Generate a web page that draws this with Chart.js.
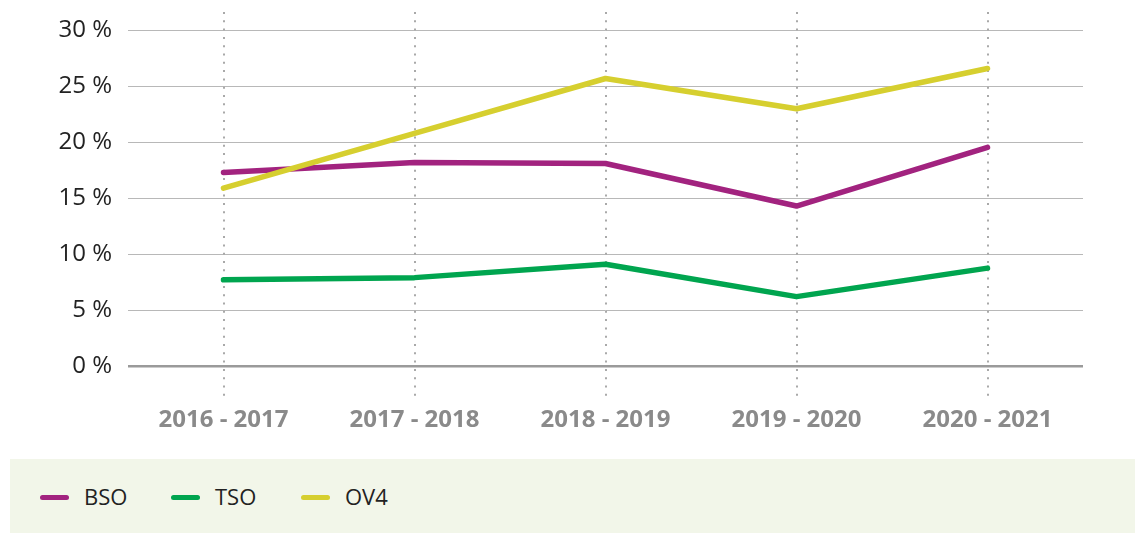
<!DOCTYPE html>
<html>
<head>
<meta charset="utf-8">
<script src="https://cdn.jsdelivr.net/npm/chart.js@4"></script>
<style>
  html, body { margin: 0; padding: 0; background: #fff; }
  #wrap { position: relative; width: 1135px; height: 533px; overflow: hidden; }
  #c { position: absolute; left: 0; top: 0; }
  #legend { position: absolute; left: 10px; top: 459px; width: 1125px; height: 74px; background: #f2f6e9;
            font-family: "Open Sans", sans-serif; font-size: 22px; color: #222; }
  .item { position: absolute; top: 0; height: 74px; display: flex; align-items: center; }
  .sw { width: 29px; height: 5px; border-radius: 3px; margin-right: 15px; margin-top: 2px; }
</style>
</head>
<body>
<div id="wrap">
  <canvas id="c" width="1135" height="455"></canvas>
  <div id="legend"></div>
</div>
<script>
const categories = ["2016 - 2017", "2017 - 2018", "2018 - 2019", "2019 - 2020", "2020 - 2021"];
const seriesNames = ["BSO", "TSO", "OV4"];
const bso = [17.3, 18.2, 18.1, 14.3, 19.55];
const tso = [7.7, 7.9, 9.1, 6.2, 8.75];
const ov4 = [15.9, 20.8, 25.7, 23.0, 26.6];
const colors = ["#a2237f", "#00a54f", "#d6cf2f"];
const yTicks = [0, 5, 10, 15, 20, 25, 30];

const dottedX = {
  id: 'dottedX',
  beforeDatasetsDraw(chart) {
    const ctx = chart.ctx, xs = chart.scales.x;
    ctx.save();
    ctx.strokeStyle = '#a9a9a9';
    ctx.lineWidth = 2;
    ctx.setLineDash([2, 6.3]);
    for (let i = 0; i < categories.length; i++) {
      const x = Math.round(xs.getPixelForValue(i));
      ctx.beginPath();
      ctx.moveTo(x, 12);
      ctx.lineTo(x, 396);
      ctx.stroke();
    }
    ctx.restore();
  }
};

new Chart(document.getElementById('c'), {
  type: 'line',
  data: {
    labels: categories,
    datasets: [bso, tso, ov4].map((d, i) => ({
      label: seriesNames[i], data: d, borderColor: colors[i], backgroundColor: colors[i],
      borderWidth: 5.5, pointRadius: 0, tension: 0, borderCapStyle: 'round', borderJoinStyle: 'round'
    })).reverse()
  },
  options: {
    responsive: false, animation: false,
    layout: { padding: { top: 26, right: 52, left: 0, bottom: 0 } },
    plugins: { legend: { display: false }, tooltip: { enabled: false } },
    scales: {
      x: {
        offset: true,
        grid: { display: false, drawTicks: false },
        border: { display: false },
        ticks: { padding: 40, color: '#8a8a8a', font: { family: 'Open Sans', size: 24, weight: 'bold' } },
        afterFit(s) { s.height = 89; }
      },
      y: {
        min: 0, max: 30,
        afterBuildTicks(s) { s.ticks = yTicks.map(v => ({ value: v })); },
        grid: {
          drawTicks: false,
          color: ctx => ctx.tick && ctx.tick.value === 0 ? '#9a9a9a' : '#b8b8b8',
          lineWidth: ctx => ctx.tick && ctx.tick.value === 0 ? 2.5 : 1
        },
        border: { display: false },
        ticks: { padding: 16, color: '#222', font: { family: 'Open Sans', size: 24 }, callback: v => v + ' %' },
        afterFit(s) { s.width = 128; }
      }
    }
  },
  plugins: [dottedX]
});

const lg = document.getElementById('legend');
const lefts = [30, 161, 291];
seriesNames.forEach((n, i) => {
  const it = document.createElement('div');
  it.className = 'item';
  it.style.left = lefts[i] + 'px';
  it.innerHTML = '<div class="sw" style="background:' + colors[i] + '"></div><span>' + n + '</span>';
  lg.appendChild(it);
});
</script>
</body>
</html>
